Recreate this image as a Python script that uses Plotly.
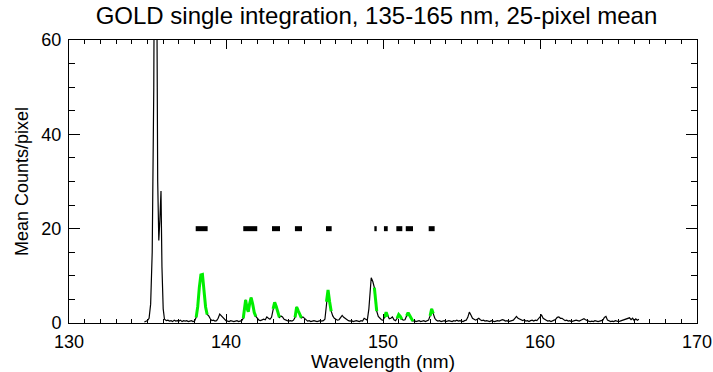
import plotly.graph_objects as go

# Spectrum (wavelength nm, mean counts/pixel)
wavelength = [
    134.8, 134.9, 135.0, 135.1, 135.2, 135.3, 135.4, 135.45, 135.52, 135.58, 135.65, 135.72, 135.79, 135.86, 135.92,
    136.0, 136.08, 136.2, 136.3, 136.4, 136.5, 136.6, 136.7, 136.8, 136.9,
    137.0, 137.1, 137.2, 137.3, 137.4, 137.5, 137.6, 137.7, 137.8, 137.9,
    138.0, 138.1, 138.2, 138.3, 138.4, 138.5, 138.6, 138.7, 138.8, 138.9,
    139.0, 139.1, 139.2, 139.3, 139.4, 139.5, 139.6, 139.7, 139.8, 139.9,
    140.0, 140.1, 140.2, 140.3, 140.4, 140.5, 140.6, 140.7, 140.8, 140.9,
    141.0, 141.1, 141.2, 141.25, 141.35, 141.42, 141.5, 141.6, 141.7, 141.8, 141.9,
    142.0, 142.1, 142.2, 142.3, 142.4, 142.5, 142.6, 142.7, 142.8, 142.9,
    143.0, 143.1, 143.2, 143.3, 143.4, 143.5, 143.6, 143.7, 143.8, 143.9,
    144.0, 144.1, 144.2, 144.3, 144.4, 144.5, 144.6, 144.7, 144.8, 144.9,
    145.0, 145.1, 145.2, 145.3, 145.4, 145.5, 145.6, 145.7, 145.8, 145.9,
    146.0, 146.1, 146.2, 146.3, 146.4, 146.5, 146.6, 146.7, 146.8, 146.9,
    147.0, 147.1, 147.2, 147.3, 147.4, 147.5, 147.6, 147.7, 147.8, 147.9,
    148.0, 148.1, 148.2, 148.3, 148.4, 148.5, 148.6, 148.7, 148.8, 148.9,
    149.0, 149.1, 149.2, 149.25, 149.35, 149.45, 149.55, 149.6, 149.7, 149.8, 149.9,
    150.0, 150.1, 150.2, 150.3, 150.4, 150.5, 150.6, 150.7, 150.8, 150.9,
    151.0, 151.1, 151.2, 151.3, 151.4, 151.5, 151.6, 151.7, 151.8, 151.9,
    152.0, 152.1, 152.2, 152.3, 152.4, 152.5, 152.6, 152.7, 152.8, 152.9,
    153.0, 153.1, 153.2, 153.3, 153.4, 153.5, 153.6, 153.7, 153.8, 153.9,
    154.0, 154.1, 154.2, 154.3, 154.4, 154.5, 154.6, 154.7, 154.8, 154.9,
    155.0, 155.1, 155.2, 155.3, 155.4, 155.5, 155.6, 155.7, 155.8, 155.9,
    156.0, 156.1, 156.2, 156.3, 156.4, 156.5, 156.6, 156.7, 156.8, 156.9,
    157.0, 157.1, 157.2, 157.3, 157.4, 157.5, 157.6, 157.7, 157.8, 157.9,
    158.0, 158.1, 158.2, 158.3, 158.4, 158.5, 158.6, 158.7, 158.8, 158.9,
    159.0, 159.1, 159.2, 159.3, 159.4, 159.5, 159.6, 159.7, 159.8, 159.9,
    160.0, 160.1, 160.2, 160.3, 160.4, 160.5, 160.6, 160.7, 160.8, 160.9,
    161.0, 161.1, 161.2, 161.3, 161.4, 161.5, 161.6, 161.7, 161.8, 161.9,
    162.0, 162.1, 162.2, 162.3, 162.4, 162.5, 162.6, 162.7, 162.8, 162.9,
    163.0, 163.1, 163.2, 163.3, 163.4, 163.5, 163.6, 163.7, 163.8, 163.9,
    164.0, 164.1, 164.2, 164.3, 164.4, 164.5, 164.6, 164.7, 164.8, 164.9,
    165.0, 165.1, 165.2, 165.3, 165.4, 165.5, 165.6, 165.7, 165.8, 165.9,
    166.0, 166.1, 166.2, 166.3,
]
counts = [
    0.2, 0.3, 0.5, 1.0, 4.0, 15, 50, 90, 130, 80, 30, 17.5, 22, 28, 12,
    3.0, 0.8, 0.5, 0.6, 0.4, 0.5, 0.3, 0.6, 0.4, 0.5,
    0.4, 0.6, 0.3, 0.5, 0.4, 0.5, 0.3, 0.4, 0.5, 0.3,
    0.4, 1.2, 3.5, 7.5, 10.2, 10.3, 6.0, 3.4, 1.8, 1.5,
    0.9, 0.5, 0.6, 0.4, 0.5, 1.0, 1.9, 1.5, 1.3, 0.7,
    0.5, 0.4, 0.3, 0.5, 0.4, 0.3, 0.4, 0.5, 0.3, 0.4,
    0.5, 1.0, 4.5, 4.9, 3.0, 2.4, 4.0, 5.4, 4.0, 2.2, 1.4,
    1.0, 0.6, 0.5, 0.6, 0.8, 0.7, 1.3, 1.0, 0.8, 1.2,
    3.0, 4.4, 3.5, 2.0, 1.2, 1.5, 1.3, 0.8, 0.6, 0.5,
    0.4, 0.5, 0.4, 0.6, 1.2, 3.4, 2.6, 1.6, 1.1, 1.3,
    1.0, 0.6, 0.4, 0.5, 0.3, 0.4, 0.5, 0.4, 0.3, 0.4,
    0.5, 0.4, 0.5, 0.8, 4.5, 7.0, 4.5, 2.5, 1.5, 1.0,
    0.8, 0.6, 0.7, 1.2, 1.6, 1.2, 0.9, 0.6, 0.5, 0.4,
    0.5, 0.3, 0.4, 0.5, 0.4, 0.3, 0.5, 0.4, 1.0, 0.8,
    0.6, 3.0, 8.5, 9.6, 8.8, 7.5, 4.0, 2.5, 1.4, 1.0, 0.7,
    0.6, 1.2, 2.3, 1.4, 0.9, 1.0, 1.3, 0.7, 0.5, 1.0,
    1.8, 1.4, 0.8, 0.6, 0.7, 1.5, 2.2, 1.6, 0.9, 0.4,
    0.5, 0.3, 0.4, 0.5, 0.3, 0.4, 0.5, 0.3, 0.4, 0.6,
    1.5, 3.0, 2.0, 1.0, 0.6, 0.4, 0.5, 0.3, 0.4, 0.5,
    0.3, 0.4, 0.5, 0.4, 0.3, 0.5, 0.4, 0.6, 0.4, 0.5,
    0.4, 0.3, 0.5, 0.6, 1.2, 2.3, 1.7, 1.0, 0.8, 0.6,
    0.8, 1.0, 0.7, 0.5, 0.6, 0.4, 0.5, 0.4, 0.3, 0.5,
    0.4, 0.3, 0.4, 0.5, 0.4, 0.6, 0.7, 0.6, 0.4, 0.5,
    0.3, 0.4, 0.5, 0.6, 1.0, 1.4, 1.0, 0.8, 0.6, 0.5,
    0.7, 0.4, 0.5, 0.3, 0.5, 0.6, 0.4, 0.6, 0.5, 0.9,
    1.5, 1.7, 1.0, 0.7, 0.6, 0.4, 0.5, 0.3, 0.4, 0.6,
    0.8, 1.2, 1.3, 1.0, 1.0, 0.7, 0.5, 0.6, 0.4, 0.5,
    0.3, 0.4, 0.5, 0.6, 0.5, 0.4, 0.6, 0.8, 0.9, 0.7,
    0.5, 0.4, 0.3, 0.4, 0.3, 0.5, 0.4, 0.3, 0.4, 0.5,
    0.6, 1.2, 1.4, 0.6, 0.4, 0.3, 0.4, 0.3, 0.5, 0.4,
    0.3, 0.4, 0.5, 0.6, 0.8, 0.9, 1.0, 1.1, 0.7, 1.0,
    0.5, 0.9, 0.6, 0.8,
]

# Selected wavelength windows (start, end) in nm, marked by black bars at y=20
window_start = [138.07, 141.10, 142.93, 144.39, 146.37, 149.45, 150.06, 150.85, 151.45, 152.91]
window_end = [138.83, 141.99, 143.44, 144.84, 146.73, 149.60, 150.30, 151.23, 151.91, 153.29]
bar_level = 20

fig = go.Figure()

fig.add_trace(go.Scatter(x=wavelength, y=counts, mode="lines",
                         line=dict(color="black", width=1.2), showlegend=False, hoverinfo="skip"))

gx, gy = [], []
for s, e in zip(window_start, window_end):
    for w, c in zip(wavelength, counts):
        if s <= w <= e:
            gx.append(w)
            gy.append(c)
    gx.append(None)
    gy.append(None)
fig.add_trace(go.Scatter(x=gx, y=gy, mode="lines",
                         line=dict(color="#00ee00", width=3), showlegend=False, hoverinfo="skip"))

bx, by = [], []
for s, e in zip(window_start, window_end):
    bx += [s, e, None]
    by += [bar_level, bar_level, None]
fig.add_trace(go.Scatter(x=bx, y=by, mode="lines",
                         line=dict(color="black", width=5), showlegend=False, hoverinfo="skip"))

font = "Liberation Sans, Arial, Helvetica, sans-serif"
fig.update_layout(
    width=713, height=372,
    margin=dict(l=69, r=16, t=40, b=49),
    paper_bgcolor="white", plot_bgcolor="white",
    font=dict(family=font, size=18, color="black"),
    title=dict(text="GOLD single integration, 135-165 nm, 25-pixel mean",
               x=0.528, xanchor="center", y=1 - 16 / 372, yanchor="middle", yref="container",
               font=dict(size=24, color="black", family=font)),
    xaxis=dict(range=[130, 170], tickvals=[130, 140, 150, 160, 170], ticks="inside", ticklen=9,
               tickcolor="black", showline=True, linecolor="black", linewidth=1, mirror="ticks",
               showgrid=False, zeroline=False, automargin=False, ticklabelstandoff=2,
               minor=dict(dtick=1, ticks="inside", ticklen=4, tickcolor="black", showgrid=False),
               title=dict(text="Wavelength (nm)", standoff=2, font=dict(size=19))),
    yaxis=dict(range=[0, 60], tickvals=[0, 20, 40, 60], ticks="inside", ticklen=11,
               tickcolor="black", showline=True, linecolor="black", linewidth=1, mirror="ticks",
               showgrid=False, zeroline=False, automargin=False, ticklabelstandoff=3,
               minor=dict(dtick=5, ticks="inside", ticklen=6, tickcolor="black", showgrid=False),
               title=dict(text="Mean Counts/pixel", standoff=8, font=dict(size=18))),
)

fig.write_html("out.html")
